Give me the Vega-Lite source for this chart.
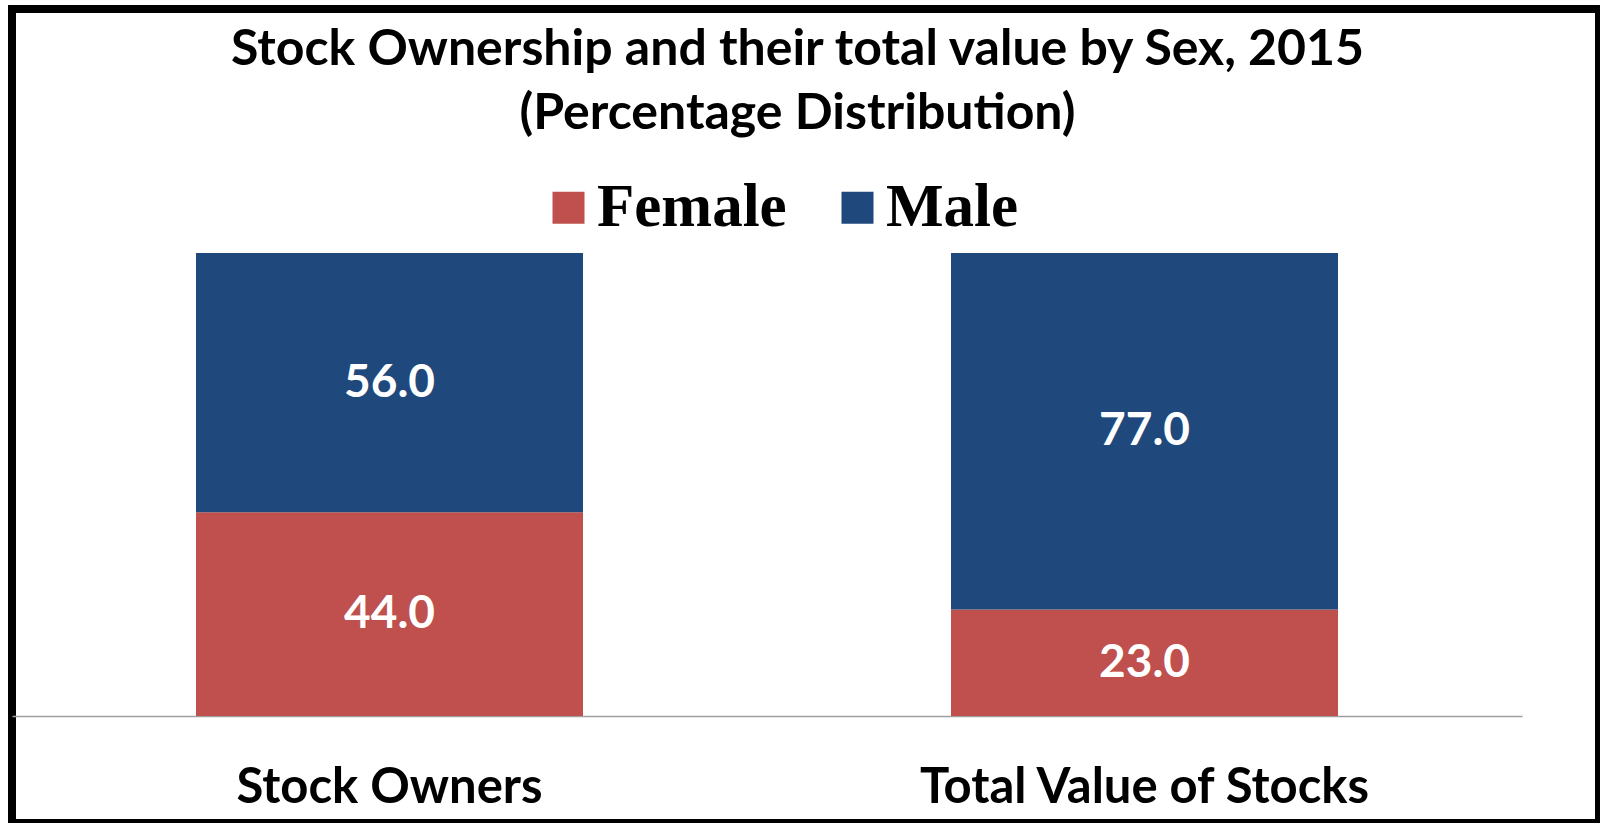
{
  "$schema": "https://vega.github.io/schema/vega-lite/v6.json",
  "width": 1587,
  "height": 814,
  "autosize": {"type": "none"},
  "padding": {"left": 12, "top": 9, "right": 1, "bottom": 0},
  "background": "white",
  "title": {
    "text": ["Stock Ownership and their total value by Sex, 2015", "(Percentage Distribution)"],
    "font": "Lato",
    "fontSize": 50,
    "fontWeight": "bold",
    "color": "black",
    "anchor": "middle",
    "baseline": "top",
    "lineHeight": 64,
    "offset": -130,
    "dx": -8
  },
  "data": {
    "values": [
      {"category": "Stock Owners", "sex": "Female", "value": 44},
      {"category": "Stock Owners", "sex": "Male", "value": 56},
      {"category": "Total Value of Stocks", "sex": "Female", "value": 23},
      {"category": "Total Value of Stocks", "sex": "Male", "value": 77}
    ]
  },
  "encoding": {
    "x": {
      "field": "category",
      "type": "nominal",
      "sort": null,
      "scale": {"paddingInner": 0.4874, "paddingOuter": 0.2947, "align": 0.4135},
      "axis": {
        "title": null,
        "labelAngle": 0,
        "offset": -107,
        "ticks": false,
        "domainColor": "#A0A0A0",
        "domainWidth": 1.5,
        "domainDash": [1510, 2000],
        "labelFont": "Lato",
        "labelFontSize": 49,
        "labelFontWeight": "bold",
        "labelColor": "black",
        "labelBaseline": "alphabetic",
        "labelPadding": 86,
        "labelLimit": 0
      }
    }
  },
  "layer": [
    {
      "mark": {"type": "bar"},
      "encoding": {
        "y": {
          "field": "value",
          "type": "quantitative",
          "stack": "zero",
          "scale": {"domain": [-23.11, 152.7], "nice": false, "zero": false},
          "axis": null
        },
        "color": {
          "field": "sex",
          "type": "nominal",
          "scale": {"domain": ["Female", "Male"], "range": ["#C0504D", "#1F497D"]},
          "legend": {
            "orient": "none",
            "legendX": 526,
            "legendY": 168,
            "direction": "horizontal",
            "title": null,
            "symbolType": "square",
            "symbolSize": 1024,
            "symbolStrokeWidth": 0,
            "labelFont": "Liberation Serif",
            "labelFontSize": 61,
            "labelFontWeight": "bold",
            "labelColor": "black",
            "labelOffset": -2,
            "columnPadding": 40,
            "padding": 0,
            "labelLimit": 0
          }
        },
        "order": {"field": "sex", "sort": "ascending"}
      }
    },
    {
      "transform": [
        {"stack": "value", "groupby": ["category"], "sort": [{"field": "sex", "order": "ascending"}], "as": ["v0", "v1"]},
        {"calculate": "(datum.v0 + datum.v1) / 2", "as": "mid"}
      ],
      "mark": {"type": "text", "font": "Lato", "fontSize": 46, "fontWeight": "bold", "color": "white", "baseline": "middle"},
      "encoding": {
        "y": {"field": "mid", "type": "quantitative"},
        "text": {"field": "value", "type": "quantitative", "format": ".1f"}
      }
    }
  ],
  "config": {
    "view": {"stroke": "black", "strokeWidth": 8, "fill": "white"}
  }
}
